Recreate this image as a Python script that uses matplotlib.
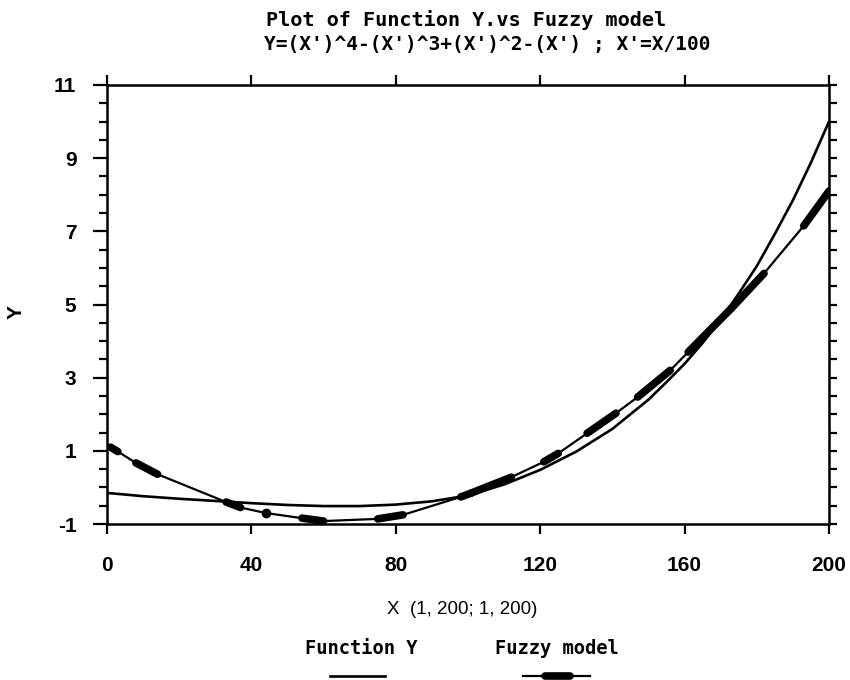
import numpy as np
import matplotlib
matplotlib.use('Agg')
import matplotlib.pyplot as plt
from matplotlib.lines import Line2D
from matplotlib.ticker import MultipleLocator

plt.rcParams['axes.unicode_minus'] = False

# function Y (denser where it bends up at the right)
fn_x = [0, 10, 20, 30, 40, 50, 60, 70, 80, 90, 100,
        110, 120, 130, 140, 150, 155, 160, 165, 170, 175, 180, 185, 190, 195, 200]
fn_y = [-0.15, -0.24, -0.31, -0.37, -0.43, -0.48, -0.51, -0.51, -0.47, -0.38, -0.22,
        0.08, 0.48, 0.98, 1.60, 2.40, 2.88, 3.38, 3.95, 4.58, 5.30, 6.05, 6.93, 7.85, 8.88, 10.0]

# fuzzy model polyline vertices
fz_x = [1, 3, 8, 14, 33, 37, 44, 54, 60, 75, 82, 98, 101,
        112, 121, 125, 133, 141, 147, 156, 161, 173, 182, 193, 200]
fz_y = [1.10, 0.98, 0.67, 0.36, -0.40, -0.55, -0.70, -0.84, -0.92, -0.86, -0.75, -0.26, -0.15,
        0.28, 0.70, 0.93, 1.48, 2.03, 2.47, 3.20, 3.70, 4.90, 5.85, 7.15, 8.10]
# thick (densely sampled) stretches, as vertex index pairs
blobs = [(0, 1), (2, 3), (4, 5), (7, 8), (9, 10), (11, 12), (12, 13),
         (14, 15), (16, 17), (18, 19), (20, 21), (21, 22), (23, 24)]
dots = [6]

x_ticks = [0, 40, 80, 120, 160, 200]
y_ticks = [-1, 1, 3, 5, 7, 9, 11]

tick_font = dict(family='Liberation Sans', weight='bold', size=15)
mono = dict(family='DejaVu Sans Mono', weight='bold')

fig = plt.figure(figsize=(8.5, 6.8), dpi=100)
ax = fig.add_axes([107/850, 1 - 524/680, 722/850, 439/680])

ax.plot(fn_x, fn_y, color='black', lw=1.9, solid_capstyle='round')
ax.plot(fz_x, fz_y, color='black', lw=1.6, solid_capstyle='round')
for i, j in blobs:
    ax.plot([fz_x[i], fz_x[j]], [fz_y[i], fz_y[j]], color='black', lw=5.5,
            solid_capstyle='round')
for i in dots:
    ax.plot(fz_x[i], fz_y[i], 'o', color='black', ms=6)

ax.set_xlim(0, 200)
ax.set_ylim(-1, 11)
for s in ax.spines.values():
    s.set_linewidth(1.8)

ax.set_xticks(x_ticks)
ax.set_yticks(y_ticks)
ax.yaxis.set_minor_locator(MultipleLocator(0.5))
ax.set_xticklabels([str(v) for v in x_ticks], fontdict=tick_font)
ax.set_yticklabels([str(v) for v in y_ticks], fontdict=tick_font)
ax.tick_params(axis='x', which='major', direction='out', length=7, width=1.6,
               top=True, pad=16)
ax.tick_params(axis='y', which='major', direction='out', length=10, width=1.6, pad=12)
ax.tick_params(axis='y', which='minor', direction='out', length=6, width=1.6)

ax2 = ax.twinx()
ax2.set_ylim(-1, 11)
ax2.yaxis.set_major_locator(MultipleLocator(0.5))
ax2.tick_params(axis='y', direction='out', length=6, width=1.6, labelright=False)
for s in ax2.spines.values():
    s.set_visible(False)

fig.text(0.548, 0.9706, 'Plot of Function Y.vs Fuzzy model', ha='center', va='center',
         size=14.5, **mono)
fig.text(0.573, 0.934, "Y=(X')^4-(X')^3+(X')^2-(X') ; X'=X/100", ha='center', va='center',
         size=14, **mono)
fig.text(462/850, 1 - 610/680, 'X  (1, 200; 1, 200)', ha='center', va='center',
         family='Liberation Sans', size=13.5)
fig.text(16/850, 1 - 312/680, 'Y', ha='center', va='center', rotation=90,
         family='Liberation Sans', weight='bold', size=15)

# legend: labels above, line samples below
fig.text(361/850, 1 - 648/680, 'Function Y', ha='center', va='center', size=13.5, **mono)
fig.text(557/850, 1 - 648/680, 'Fuzzy model', ha='center', va='center', size=13.5, **mono)
ly = 1 - 676/680
fig.add_artist(Line2D([330/850, 385/850], [ly, ly], color='black', lw=1.9,
                      transform=fig.transFigure))
fig.add_artist(Line2D([523/850, 590/850], [ly, ly], color='black', lw=1.6,
                      transform=fig.transFigure))
fig.add_artist(Line2D([545/850, 570/850], [ly, ly], color='black', lw=5.5,
                      solid_capstyle='round', transform=fig.transFigure))

fig.savefig('out.png', dpi=100)
